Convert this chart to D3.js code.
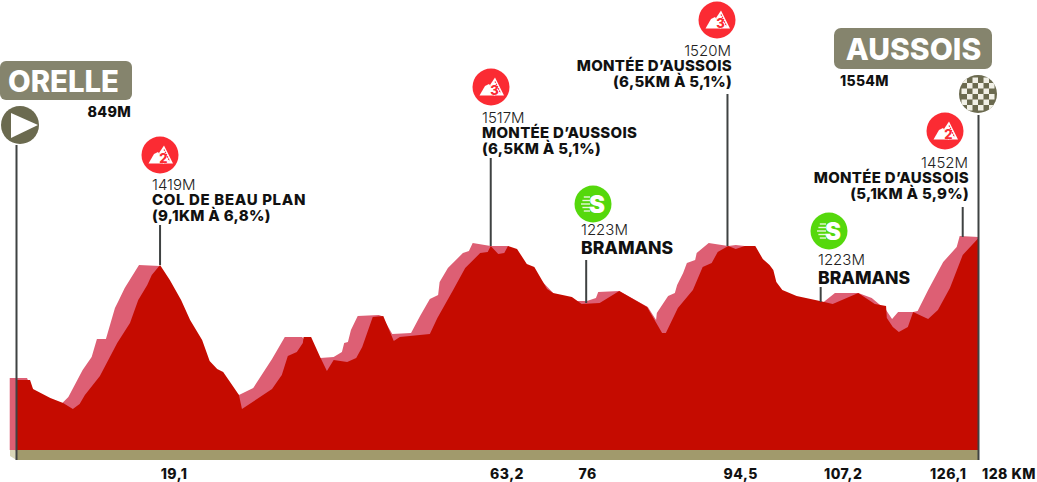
<!DOCTYPE html>
<html><head><meta charset="utf-8">
<script src="https://cdnjs.cloudflare.com/ajax/libs/d3/7.8.5/d3.min.js"></script>
<style>html,body{margin:0;padding:0;background:#fff}svg{display:block}text{font-family:Inter,"Open Sans",sans-serif}</style>
</head><body><svg id="c" width="1037" height="482"></svg>
<script>
const frontKm=[0,1.8,2.2,4.5,6.2,7.5,8.4,9.1,11.1,13.4,15.1,16.2,17.4,18,19.1,20.4,21.9,23.1,24.7,25.7,26.7,27.5,29.6,30,34,35.3,36.1,37.3,38.1,38.2,39.2,40.4,41.3,42.2,44,45.2,46,47.4,48.8,50.2,51,55,56,58.1,59.7,61.7,62.7,63.1,64.1,64.9,65.4,66.6,67.9,68.9,70.6,71.4,73.9,75.2,77.6,80.2,83.9,85.9,86.4,88,90,91.3,92.5,93.3,94.7,95.7,96.9,98.3,99.3,100.2,100.7,101.1,101.9,103.8,106.9,108.6,112,114.2,115.7,115.8,116.6,117.4,118.6,119.3,121.3,122.6,124.2,125.9,128];
const frontEle=[850,850,805,760,735,705,730,775,870,1035,1135,1250,1325,1375,1425,1350,1250,1150,1050,945,905,890,775,705,805,875,970,990,1035,1065,1065,965,895,950,940,960,1015,1165,1170,1045,1065,1080,1160,1300,1410,1485,1490,1520,1480,1485,1520,1505,1430,1415,1305,1285,1265,1230,1235,1295,1215,1085,1085,1210,1300,1415,1435,1490,1520,1505,1520,1520,1455,1425,1400,1340,1300,1270,1245,1230,1285,1230,1220,1160,1115,1090,1115,1190,1155,1200,1310,1475,1560];
const backKm=[-0.9,1.4,1.8,3.1,6.1,6.9,8.8,10,10.7,11.9,13.1,13.5,14.4,16.3,19.1,25.7,29.6,31.5,34,35.7,38,40.4,42.2,43.3,43.6,44.1,44.5,45.4,48.2,48.6,50,52.5,53.7,55,56.1,56.3,57.4,59.4,60.2,60.7,63.1,65.4,72.3,74.7,75.9,77.1,77.4,80.2,84,85.1,85.2,86.7,87.6,87.9,88.7,89.2,90.3,90.5,92.1,94.7,95.7,96.9,102.9,107.4,108.9,112,113.8,115.7,116.5,117.3,119.3,119.9,121.3,123.3,125.1,125.5,128];
const backEle=[860,860,825,750,735,765,900,965,1055,1055,1210,1240,1310,1425,1420,850,775,810,955,1065,1065,960,965,990,1035,1040,1100,1170,1175,1170,1080,1085,1170,1255,1275,1340,1410,1485,1495,1535,1520,1520,1250,1245,1245,1260,1290,1295,1215,1150,1185,1270,1285,1325,1385,1435,1450,1485,1535,1520,1525,1520,1250,1240,1285,1285,1260,1200,1155,1190,1190,1195,1300,1440,1515,1570,1565];
const markerKm=[19.1,63.1,75.8,94.6,107,125.9];
const markerEle=[1425,1520,1235,1520,1240,1565];
const markerAlt=["1419M","1517M","1223M","1520M","1223M","1452M"];
const markerName=["COL DE BEAU PLAN","MONTÉE D’AUSSOIS","BRAMANS","MONTÉE D’AUSSOIS","BRAMANS","MONTÉE D’AUSSOIS"];
const markerInfo=["(9,1KM À 6,8%)","(6,5KM À 5,1%)","","(6,5KM À 5,1%)","","(5,1KM À 5,9%)"];
const markerKind=["2","3","S","3","S","2"];
const tickKm=[19.1,63.2,76,94.5,107.2,126.1];
const tickLabels=["19,1","63,2","76","94,5","107,2","126,1"];
const startName="ORELLE",startAlt="849M",finishName="AUSSOIS",finishAlt="1554M",totalLabel="128 KM";

const layout=[
 {ix:160,iy:155,tx:152,a:"start",y0:190,lineTop:225,ls:0.65},
 {ix:491,iy:87,tx:482,a:"start",y0:123,lineTop:158,ls:0.3},
 {ix:593,iy:204,tx:581,a:"start",y0:235,lineTop:260,ls:0},
 {ix:717,iy:20,tx:732,a:"end",y0:56,lineTop:94,ls:0.3},
 {ix:829,iy:231,tx:818,a:"start",y0:265,lineTop:287,ls:0},
 {ix:945,iy:131,tx:969,a:"end",y0:168,lineTop:207,ls:0.3}];
const tickDx=[14,15.5,0,14,21,-16];

const svg=d3.select("#c");
const x=d3.scaleLinear().domain([0,128]).range([16.5,978.5]);
const y=d3.scaleLinear().domain([500,1530]).range([450,244]);
const area=d3.area().x(d=>x(d[0])).y0(y(500)).y1(d=>y(d[1]));

// base
svg.append("path").attr("d","M10,447L16.5,451L16.5,460L10,456Z").attr("fill","#d9d6b9");
svg.append("rect").attr("x",x(0)).attr("y",450).attr("width",x(128)-x(0)).attr("height",10).attr("fill","#a19a6c");
// back
svg.append("path").attr("d",area(d3.zip(backKm,backEle))).attr("fill","#dd5f74");
svg.append("path").attr("d","M10,447L16.5,451L16.5,440L10,440Z").attr("fill","#dd5f74");
// front
svg.append("path").attr("d",area(d3.zip(frontKm,frontEle))).attr("fill","#c50b00");

const lineCol="#3f4242";
svg.append("line").attr("x1",x(0)).attr("x2",x(0)).attr("y1",145).attr("y2",460).attr("stroke",lineCol).attr("stroke-width",2);
svg.append("line").attr("x1",x(128)).attr("x2",x(128)).attr("y1",115).attr("y2",460).attr("stroke",lineCol).attr("stroke-width",2);

const txt=(s,xx,yy,size,weight,anchor,fill,ls)=>svg.append("text").attr("x",xx).attr("y",yy).attr("font-size",size).attr("font-weight",weight).attr("text-anchor",anchor||"start").attr("fill",fill||"#111").attr("letter-spacing",ls||0).text(s);

// markers
markerKm.forEach((k,i)=>{
  const L=layout[i];
  svg.append("line").attr("x1",x(k)).attr("x2",x(k)).attr("y1",L.lineTop).attr("y2",y(markerEle[i])).attr("stroke",lineCol).attr("stroke-width",2);
  txt(markerAlt[i],L.tx-(L.a==="end"?1:0),L.y0,15,300,L.a,"#222");
  const big=markerInfo[i]==="";
  txt(markerName[i],L.tx,L.y0+(big?19:14.5),big?17.6:15,800,L.a,"#111",L.ls);
  if(!big) txt(markerInfo[i],L.tx,L.y0+31,15,800,L.a,"#111",0.3);
  const g=svg.append("g").attr("transform",`translate(${L.ix},${L.iy})`);
  if(markerKind[i]==="S"){
    g.append("circle").attr("r",18.5).attr("fill","#55d80c");
    [-7,-3.5,0,3.5,7].forEach(dy=>g.append("line").attr("x1",-12+Math.abs(dy)*0.4).attr("x2",-3).attr("y1",dy).attr("y2",dy).attr("stroke","#fff").attr("stroke-width",1.4).attr("opacity",0.85));
    g.append("text").attr("x",4).attr("y",8.5).attr("text-anchor","middle").attr("font-size",24).attr("font-weight",900).attr("fill","#fff").text("S");
  } else {
    g.append("circle").attr("r",18.5).attr("fill","#fb2b33");
    g.append("path").attr("d","M-11.5,8.5L-6,-1L-2,-3L1,1L4,8.5Z").attr("fill","#fff");
    g.append("path").attr("d","M-1,-2L4,-9.5L13,8.5L3,8.5").attr("fill","#fff");
    g.append("path").attr("d","M4,-5.5L9.5,6").attr("stroke","#fb2b33").attr("stroke-width",1.2).attr("stroke-dasharray","1.5 1").attr("fill","none");
    g.append("text").attr("x",3.5).attr("y",8).attr("text-anchor","middle").attr("font-size",13).attr("font-weight",800).attr("fill","#fb2b33").text(markerKind[i]);
  }
});

// start flag
svg.append("rect").attr("x",0).attr("y",61).attr("width",132).attr("height",39).attr("rx",6).attr("fill","#85846d");
txt(startName,8,92,29.3,800,"start","#fff",0);
txt(startAlt,131,116.5,14.3,800,"end","#111",0.3);
svg.append("circle").attr("cx",20).attr("cy",125).attr("r",19).attr("fill","#6b6a4f");
svg.append("path").attr("d","M11,113L38,125L11,138Z").attr("fill","#fff");

// finish flag
svg.append("rect").attr("x",834).attr("y",28).attr("width",158).attr("height",41).attr("rx",7).attr("fill","#85846d");
txt(finishName,913.5,60,30,800,"middle","#fff",0);
txt(finishAlt,840,86,14,800,"start","#111",0.3);
const fx=978,fy=94;
svg.append("defs").append("clipPath").attr("id","fc").append("circle").attr("cx",fx).attr("cy",fy).attr("r",19);
const fg=svg.append("g").attr("clip-path","url(#fc)");
fg.append("rect").attr("x",fx-19).attr("y",fy-19).attr("width",38).attr("height",38).attr("fill","#6b6a4f");
d3.range(-3,3).forEach(c=>d3.range(-3,3).forEach(r=>{
  if((c+r+600)%2===0)
    fg.append("rect").attr("x",fx+c*5.5).attr("y",fy+r*5.5).attr("width",5.5).attr("height",5.5).attr("fill","#f1f0e6");
}));

// ticks
tickKm.forEach((k,i)=>txt(tickLabels[i],x(k)+tickDx[i],478.5,14,800,"middle","#111",0.5));
txt(totalLabel,982,478.5,14,800,"start","#111",0.5);
</script></body></html>
